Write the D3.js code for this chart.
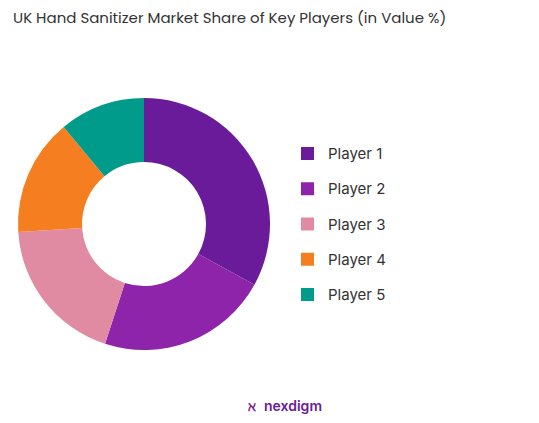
<!DOCTYPE html><html><head><meta charset="utf-8"><script src="https://d3js.org/d3.v7.min.js"></script>
<style>body{margin:0;background:#fff}</style></head><body><svg id="c" width="539" height="423"></svg>
<script>
const categories=["Player 1","Player 2","Player 3","Player 4","Player 5"];
const values=[33,22,19,15,11];
const colors=["#6a1b9a","#8e24aa","#e08ba1","#f57f20","#009b8a"];
const svg=d3.select("#c");
svg.append("text").attr("x",13).attr("y",23).attr("font-family","Poppins, Inter, sans-serif").attr("font-size",15).attr("fill","#333").text("UK  Hand Sanitizer Market Share of Key Players (in Value %)");
const pie=d3.pie().sort(null)(values);
const arc=d3.arc().innerRadius(62).outerRadius(126);
const g=svg.append("g").attr("transform","translate(144,224)");
g.selectAll("path").data(pie).join("path").attr("d",arc).attr("fill",(d,i)=>colors[i]);
const y=d3.scalePoint().domain(categories).range([153,294]);
const lg=svg.append("g");
categories.forEach((c,i)=>{
 lg.append("rect").attr("x",301).attr("y",y(c)-6).attr("width",13).attr("height",13).attr("fill",colors[i]);
 lg.append("text").attr("x",328).attr("y",y(c)+6).attr("font-family","Inter, sans-serif").attr("font-size",15).attr("fill","#333").text(c);
});
svg.append("text").attr("x",248).attr("y",411).attr("font-family","Inter, sans-serif").attr("font-size",13).attr("font-weight","bold").attr("fill","#7b2a8c").text("\u2135");
svg.append("text").attr("x",264).attr("y",411).attr("font-family","Inter, sans-serif").attr("font-size",14).attr("font-weight","600").attr("fill","#6a1b9a").text("nexdigm");
</script></body></html>
